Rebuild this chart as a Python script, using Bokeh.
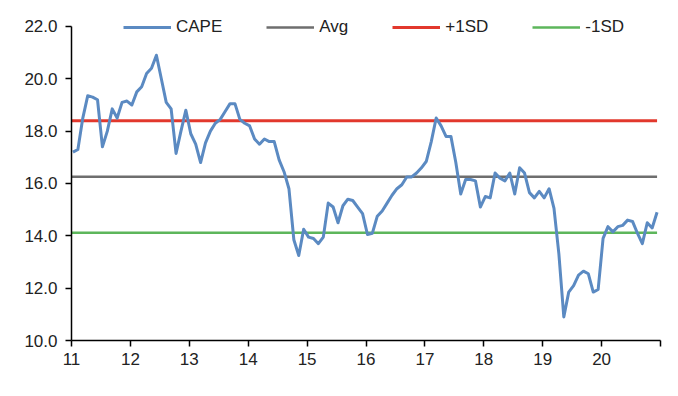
import numpy as np
from bokeh.plotting import figure
from bokeh.models import Range1d, FixedTicker, PrintfTickFormatter, Legend, LegendItem
from bokeh.embed import file_html
from bokeh.resources import INLINE

# ---- data -------------------------------------------------------------
cape = [17.2, 17.3, 18.5, 19.35, 19.3, 19.2, 17.4, 18.0, 18.85, 18.5,
        19.1, 19.15, 19.0, 19.5, 19.7, 20.2, 20.4, 20.9, 20.0, 19.1,
        18.85, 17.15, 18.0, 18.8, 17.9, 17.5, 16.8, 17.55, 18.0, 18.3,
        18.45, 18.75, 19.05, 19.05, 18.45, 18.3, 18.2, 17.7, 17.5, 17.7,
        17.6, 17.6, 16.9, 16.45, 15.8, 13.85, 13.25, 14.25, 13.95, 13.9,
        13.7, 13.95, 15.25, 15.1, 14.5, 15.15, 15.4, 15.35, 15.1, 14.85,
        14.05, 14.1, 14.75, 14.95, 15.25, 15.55, 15.8, 15.95, 16.25, 16.25,
        16.4, 16.6, 16.85, 17.6, 18.5, 18.2, 17.8, 17.8, 16.8, 15.6,
        16.15, 16.15, 16.1, 15.1, 15.5, 15.45, 16.4, 16.2, 16.1, 16.4,
        15.6, 16.6, 16.4, 15.65, 15.45, 15.7, 15.45, 15.8, 15.05, 13.3,
        10.9, 11.85, 12.1, 12.5, 12.65, 12.55, 11.85, 11.95, 13.9, 14.35,
        14.15, 14.35, 14.4, 14.6, 14.55, 14.1, 13.7, 14.5, 14.3, 14.9]
avg_level = 16.26
plus_1sd = 18.40
minus_1sd = 14.12

start_year = 11          # 2011
months = np.arange(len(cape))
x_dates = start_year + (months + 0.3) / 12.0   # monthly observations, years since 2000

x_ticks = [11, 12, 13, 14, 15, 16, 17, 18, 19, 20, 21]
x_tick_labels = ["11", "12", "13", "14", "15", "16", "17", "18", "19", "20", ""]
y_ticks = [10, 12, 14, 16, 18, 20, 22]

series_names = ["CAPE", "Avg", "+1SD", "-1SD"]
colors = ["#5B8AC2", "#6E6E6E", "#E2382D", "#5DB65B"]

# ---- figure -----------------------------------------------------------
FONT = "Liberation Sans"
# y range extends a little above 22 so the legend sits inside the frame;
# the axis itself is bounded to 10..22
p = figure(width=670, height=390, output_backend="svg", toolbar_location=None,
           x_range=Range1d(11, 21), y_range=Range1d(10, 22.61),
           min_border_left=71, min_border_right=10, min_border_top=10,
           min_border_bottom=50)
p.outline_line_color = None
p.xgrid.visible = False
p.ygrid.visible = False
p.background_fill_color = "white"
p.border_fill_color = "white"

x_span = [x_ticks[0], float(x_dates[-1])]
r_avg = p.line(x_span, [avg_level, avg_level], line_color=colors[1], line_width=2.5)
r_hi = p.line(x_span, [plus_1sd, plus_1sd], line_color=colors[2], line_width=3)
r_lo = p.line(x_span, [minus_1sd, minus_1sd], line_color=colors[3], line_width=2.5)
r_cape = p.line(x_dates, cape, line_color=colors[0], line_width=3, line_join="round")

# axes
for ax in (p.xaxis[0], p.yaxis[0]):
    ax.axis_line_color = "black"
    ax.axis_line_width = 1.5
    ax.major_tick_line_color = "black"
    ax.major_tick_line_width = 1.5
    ax.major_tick_in = 0
    ax.major_tick_out = 6
    ax.minor_tick_line_color = None
    ax.major_label_text_font = FONT
    ax.major_label_text_font_size = "17px"
    ax.major_label_text_color = "#222222"

p.xaxis.ticker = FixedTicker(ticks=x_ticks)
p.xaxis.major_label_overrides = {t: l for t, l in zip(x_ticks, x_tick_labels)}
p.xaxis.major_label_standoff = 6
p.yaxis.ticker = FixedTicker(ticks=y_ticks)
p.yaxis.bounds = (y_ticks[0], y_ticks[-1])
p.yaxis.formatter = PrintfTickFormatter(format="%.1f")
p.yaxis.major_label_standoff = 8

legend = Legend(items=[LegendItem(label=n, renderers=[r])
                       for n, r in zip(series_names, [r_cape, r_avg, r_hi, r_lo])],
                orientation="horizontal", location=(52, 303),
                glyph_width=48, glyph_height=20, label_standoff=5, spacing=44,
                padding=0, margin=0, border_line_color=None,
                background_fill_alpha=0,
                label_text_font=FONT, label_text_font_size="17px",
                label_text_color="#222222")
p.add_layout(legend, "center")

open("out.html", "w").write(file_html(p, INLINE))
